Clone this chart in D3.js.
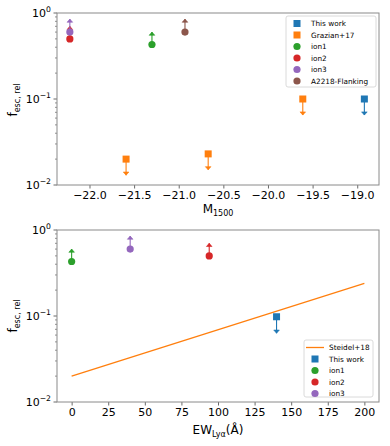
<!DOCTYPE html>
<html lang="en">
<head>
<meta charset="UTF-8">
<script src="https://d3js.org/d3.v7.min.js"></script>
<style>
  body { margin: 0; background: #fff; }
  svg { font-family: "DejaVu Sans", sans-serif; }
</style>
</head>
<body>
<svg id="chart"></svg>
<script>
// ---- data ----
// top panel: M1500 vs f_esc,rel
const thisWorkM = [-18.92], thisWorkF = [0.10], thisWorkErr = [0.035];
const grazianM = [-21.59, -20.67, -19.61], grazianF = [0.020, 0.023, 0.10], grazianErr = [0.007, 0.008, 0.035];
const ion1M = [-21.30], ion1F = [0.43], ion1Err = [0.17];
const ion2M = [-22.22], ion2F = [0.50], ion2Err = [0.20];
const ion3M = [-22.22], ion3F = [0.60], ion3Err = [0.25];
const flankM = [-20.93], flankF = [0.60], flankErr = [0.25];
const mTicks = [-22.0, -21.5, -21.0, -20.5, -20.0, -19.5, -19.0];

// bottom panel: EW_Lya vs f_esc,rel
const steidelEW = [0, 200], steidelF = [0.02, 0.24];
const thisWorkEW = [140], thisWorkF2 = [0.098], thisWorkErr2 = [0.035];
const ion1EW = [0], ion1F2 = [0.43], ion1Err2 = [0.17];
const ion2EW = [94], ion2F2 = [0.50], ion2Err2 = [0.20];
const ion3EW = [40], ion3F2 = [0.60], ion3Err2 = [0.25];
const ewTicks = [0, 25, 50, 75, 100, 125, 150, 175, 200];

const yTicks = [0.01, 0.1, 1];
const yTickExp = ["−2", "−1", "0"];

const C = {blue: "#1f77b4", orange: "#ff7f0e", green: "#2ca02c", red: "#d62728", purple: "#9467bd", brown: "#8c564b"};

const svg = d3.select("#chart").attr("width", 390).attr("height", 446);

function panel(top, bottom, xDomain, xTicks, fmt) {
    const x = d3.scaleLinear().domain(xDomain).range([57, 379]);
    const y = d3.scaleLog().domain([0.01, 1]).range([bottom, top]);
    const g = svg.append("g");

    // minor ticks on log axis
    const minors = [];
    for (const dec of [0.01, 0.1]) for (let k = 2; k <= 9; k++) minors.push(dec * k);
    g.selectAll(".minor").data(minors).join("line")
        .attr("x1", 57).attr("x2", 55).attr("y1", d => y(d)).attr("y2", d => y(d))
        .attr("stroke", "#444").attr("stroke-width", 0.6);
    g.selectAll(".major").data(yTicks).join("line")
        .attr("x1", 57).attr("x2", 53.5).attr("y1", d => y(d)).attr("y2", d => y(d))
        .attr("stroke", "#444").attr("stroke-width", 0.8);
    const yl = g.selectAll(".ylab").data(yTicks).join("text")
        .attr("x", 51).attr("y", d => y(d) + 4)
        .attr("text-anchor", "end").attr("font-size", 11).attr("fill", "#000");
    yl.append("tspan").text("10");
    yl.append("tspan").attr("dy", -5.5).attr("font-size", 7.7).text((d, i) => yTickExp[i]);

    const xa = d3.axisBottom(x).tickValues(xTicks).tickFormat(fmt).tickSize(3.5).tickPadding(3);
    g.append("g").attr("transform", `translate(0,${bottom})`).call(xa)
        .call(a => a.select(".domain").remove())
        .call(a => a.selectAll("line").attr("stroke", "#444").attr("stroke-width", 0.8))
        .call(a => a.selectAll("text").attr("font-size", 11).attr("fill", "#000")
            .attr("font-family", "DejaVu Sans, sans-serif"));

    g.append("rect").attr("x", 57).attr("y", top).attr("width", 322).attr("height", bottom - top)
        .attr("fill", "none").attr("stroke", "#8a8a8a").attr("stroke-width", 1);
    return {x, y, g};
}

function arrow(g, px, p0, p1, color) {
    g.append("line").attr("x1", px).attr("x2", px).attr("y1", p0).attr("y2", p1)
        .attr("stroke", color).attr("stroke-width", 1.1);
    const dir = p1 < p0 ? -1 : 1;
    g.append("path")
        .attr("d", `M${px - 2.8},${p1 - dir * 3.2}L${px},${p1}L${px + 2.8},${p1 - dir * 3.2}Z`)
        .attr("fill", color).attr("stroke", color).attr("stroke-width", 0.6);
}

function series(p, xs, fs, errs, color, shape, up) {
    xs.forEach((xv, i) => {
        const px = p.x(xv), py = p.y(fs[i]);
        const tip = p.y(up ? fs[i] + errs[i] : fs[i] - errs[i]);
        arrow(p.g, px, py, tip, color);
        if (shape === "square") {
            p.g.append("rect").attr("x", px - 3.5).attr("y", py - 3.5).attr("width", 7).attr("height", 7).attr("fill", color);
        } else {
            p.g.append("circle").attr("cx", px).attr("cy", py).attr("r", 3.6).attr("fill", color);
        }
    });
}

function legend(x0, y0, w, h, rows) {
    const lg = svg.append("g");
    lg.append("rect").attr("x", x0).attr("y", y0).attr("width", w).attr("height", h).attr("rx", 2)
        .attr("fill", "#fff").attr("fill-opacity", 0.8).attr("stroke", "#d0d0d0").attr("stroke-width", 0.8);
    rows.forEach((r, i) => {
        const cy = y0 + 7.5 + i * 11.5;
        if (r.shape === "line") {
            lg.append("line").attr("x1", x0 + 2).attr("x2", x0 + 20).attr("y1", cy).attr("y2", cy)
                .attr("stroke", r.color).attr("stroke-width", 1.3);
        } else if (r.shape === "square") {
            lg.append("rect").attr("x", x0 + 11 - 3.5).attr("y", cy - 3.5).attr("width", 7).attr("height", 7).attr("fill", r.color);
        } else {
            lg.append("circle").attr("cx", x0 + 11).attr("cy", cy).attr("r", 3.6).attr("fill", r.color);
        }
        lg.append("text").attr("x", x0 + 25).attr("y", cy + 2.6).attr("font-size", 7.3).attr("fill", "#000").text(r.label);
    });
}

function ylabel(cy) {
    const t = svg.append("text").attr("transform", `translate(17,${cy}) rotate(-90)`)
        .attr("text-anchor", "middle").attr("font-size", 12).attr("fill", "#000");
    t.append("tspan").text("f");
    t.append("tspan").attr("dy", 3).attr("font-size", 8).text("esc, rel");
}

const minus = d => (d < 0 ? "−" : "") + Math.abs(d).toFixed(1);

// ---- top panel ----
const p1 = panel(13, 185, [-22.364, -18.756], mTicks, minus);
series(p1, thisWorkM, thisWorkF, thisWorkErr, C.blue, "square", false);
series(p1, grazianM, grazianF, grazianErr, C.orange, "square", false);
series(p1, ion1M, ion1F, ion1Err, C.green, "circle", true);
series(p1, ion2M, ion2F, ion2Err, C.red, "circle", true);
series(p1, ion3M, ion3F, ion3Err, C.purple, "circle", true);
series(p1, flankM, flankF, flankErr, C.brown, "circle", true);
legend(286, 16, 90, 71, [
    {label: "This work", color: C.blue, shape: "square"},
    {label: "Grazian+17", color: C.orange, shape: "square"},
    {label: "ion1", color: C.green, shape: "circle"},
    {label: "ion2", color: C.red, shape: "circle"},
    {label: "ion3", color: C.purple, shape: "circle"},
    {label: "A2218-Flanking", color: C.brown, shape: "circle"}
]);
ylabel(100);
const xl1 = svg.append("text").attr("x", 218).attr("y", 213).attr("text-anchor", "middle").attr("font-size", 12);
xl1.append("tspan").text("M");
xl1.append("tspan").attr("dy", 3).attr("font-size", 8).text("1500");

// ---- bottom panel ----
const p2 = panel(230, 402, [-10, 210], ewTicks, d => d);
const line = d3.line().x(d => p2.x(d[0])).y(d => p2.y(d[1]));
p2.g.append("path").attr("d", line(steidelEW.map((e, i) => [e, steidelF[i]])))
    .attr("fill", "none").attr("stroke", C.orange).attr("stroke-width", 1.3);
series(p2, thisWorkEW, thisWorkF2, thisWorkErr2, C.blue, "square", false);
series(p2, ion1EW, ion1F2, ion1Err2, C.green, "circle", true);
series(p2, ion2EW, ion2F2, ion2Err2, C.red, "circle", true);
series(p2, ion3EW, ion3F2, ion3Err2, C.purple, "circle", true);
legend(304, 340, 69, 57, [
    {label: "Steidel+18", color: C.orange, shape: "line"},
    {label: "This work", color: C.blue, shape: "square"},
    {label: "ion1", color: C.green, shape: "circle"},
    {label: "ion2", color: C.red, shape: "circle"},
    {label: "ion3", color: C.purple, shape: "circle"}
]);
ylabel(316);
const xl2 = svg.append("text").attr("x", 218).attr("y", 434).attr("text-anchor", "middle").attr("font-size", 12);
xl2.append("tspan").text("EW");
xl2.append("tspan").attr("dy", 3).attr("font-size", 8).text("Lyα");
xl2.append("tspan").attr("dy", -3).text("(Å)");
</script>
</body>
</html>
